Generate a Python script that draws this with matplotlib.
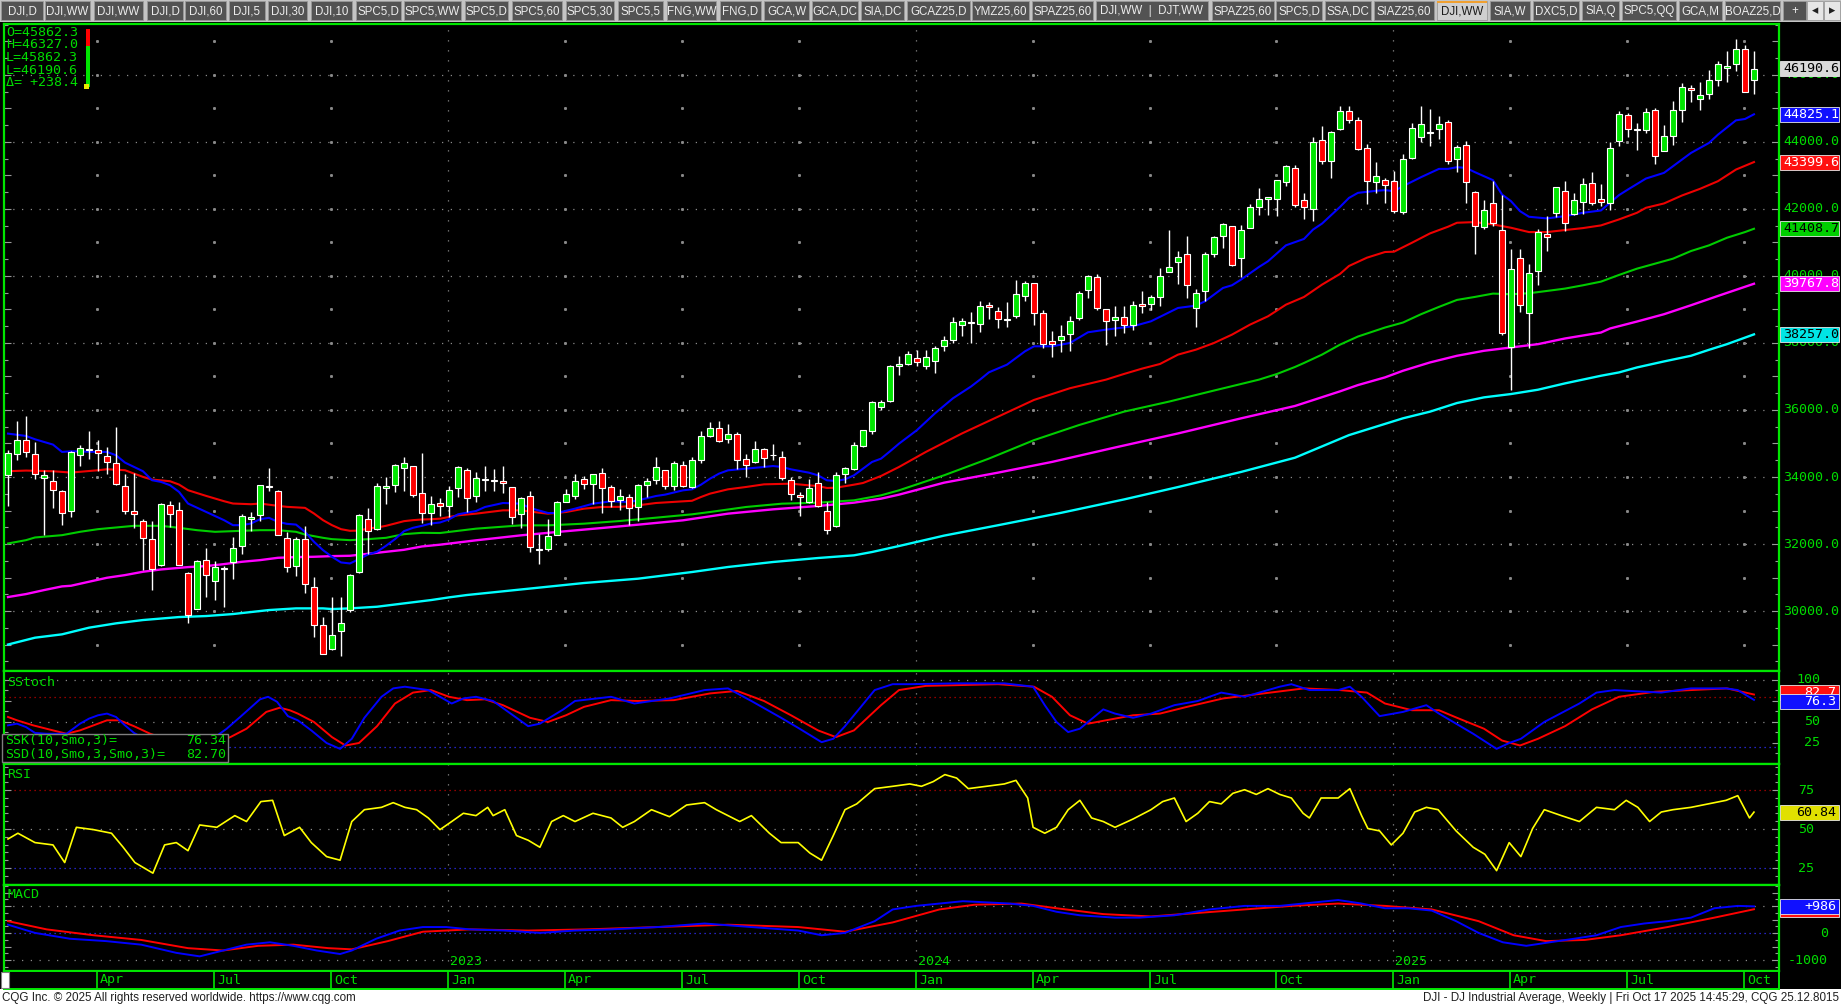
import numpy as np
import pandas as pd
import matplotlib
matplotlib.use("Agg")
import matplotlib.pyplot as plt
from matplotlib.patches import Rectangle
from matplotlib.ticker import MultipleLocator

W, H = 1841, 1008
MONO = "DejaVu Sans Mono"
SANS = ["Liberation Sans", "DejaVu Sans"]
GRN = "#00dc00"

# weekly DJI bars, first bar = week of 24 Jan 2022, last = week of 13 Oct 2025
first_week = "2022-01-24"
opens = [
    34053, 34679, 35106, 34689, 33973, 33884, 33586, 32990, 34659, 34838,
    34808, 34629, 34420, 33735, 32990, 32692, 32155, 31370, 33168, 33020,
    31142, 30069, 31529, 30903, 31260, 31460, 31937, 32751, 32860, 33720,
    33586, 32185, 31350, 32155, 30724, 29590, 28880, 29400, 30030, 31172,
    32751, 32453, 33675, 33765, 34262, 34331, 33526, 32930, 33228, 33125,
    33662, 34209, 33433, 33900, 33900, 33880, 33702, 32886, 33433, 31830,
    31841, 32279, 33254, 33433, 33950, 33791, 34120, 33702, 33314, 33403,
    33105, 33761, 33910, 34209, 33731, 34358, 33702, 34508, 35224, 35463,
    35134, 35284, 34537, 34448, 34836, 34667, 34597, 33910, 33463, 33254,
    33821, 32985, 32538, 34090, 34239, 34925, 35373, 36090, 36269, 37324,
    37373, 37552, 37324, 37453, 37920, 38090, 38537, 38627, 38567, 39135,
    38965, 38676, 38796, 39403, 39791, 38896, 38060, 38080, 38269, 38736,
    39582, 39960, 39015, 38677, 38776, 38537, 39164, 39164, 39373, 40119,
    40418, 40657, 39035, 39543, 40657, 41204, 41493, 40537, 41433, 42060,
    42298, 42298, 42806, 43224, 42269, 42000, 44050, 43423, 44388, 44915,
    44655, 43821, 42799, 42868, 42849, 41906, 43524, 44149, 44260, 44387,
    44596, 43484, 43911, 42501, 41459, 42184, 41380, 37866, 40546, 38908,
    40159, 41260, 41886, 42531, 41856, 42213, 42779, 42303, 42184, 44020,
    44794, 44397, 44367, 44943, 43732, 44189, 44963, 45608, 45280, 45429,
    45846, 46204, 46323, 46769, 45862]
highs = [
    34818, 35682, 35831, 35046, 34202, 34202, 33600, 34768, 34967, 35384,
    35116, 34897, 35493, 34102, 34122, 32761, 32692, 33220, 33278, 33240,
    31160, 31510, 31887, 31500, 31340, 32215, 32900, 32960, 33760, 34281,
    33600, 32344, 32215, 32523, 31022, 29810, 30430, 30420, 31112, 32900,
    33089, 33834, 34003, 34400, 34609, 34340, 34728, 33447, 33387, 33731,
    34328, 34269, 34149, 34328, 34249, 34328, 33702, 33403, 33582, 32289,
    32756, 33284, 33652, 34100, 34030, 34100, 34279, 33761, 33652, 33502,
    33791, 33970, 34597, 34209, 34478, 34478, 34597, 35373, 35652, 35682,
    35592, 35343, 34687, 35075, 34866, 34995, 34786, 34000, 33552, 33950,
    34149, 33254, 34149, 34299, 35045, 35403, 36269, 36299, 37343, 37622,
    37771, 37781, 37801, 37920, 38199, 38776, 38746, 38925, 39264, 39224,
    39075, 39214, 39891, 39841, 39791, 38995, 38368, 38547, 38816, 39562,
    40040, 40060, 39015, 39115, 39115, 39264, 39562, 39443, 40239, 41373,
    40736, 41204, 39612, 40717, 41204, 41582, 41493, 41512, 42139, 42627,
    42358, 42866, 43323, 43323, 42478, 44149, 44488, 44338, 45085, 45085,
    44744, 43950, 43394, 42918, 43127, 43653, 44566, 45082, 44993, 44784,
    44645, 43921, 44040, 42541, 42253, 42829, 42412, 40794, 40794, 40367,
    41389, 41787, 42660, 42849, 42462, 42928, 43107, 42730, 43990, 44913,
    44864, 44566, 45003, 45003, 44496, 45231, 45757, 45697, 45797, 46154,
    46422, 46720, 47077, 46879, 46720]
lows = [
    33129, 34500, 34609, 33953, 32265, 33089, 32562, 32811, 34331, 34530,
    34182, 34083, 33755, 32890, 32463, 31221, 30625, 31340, 32503, 31360,
    29632, 30050, 30407, 30318, 30109, 30953, 31698, 32384, 32692, 33576,
    32260, 31162, 31042, 30526, 29234, 28715, 28850, 28660, 29980, 31142,
    31698, 32413, 33208, 33546, 33576, 33397, 32642, 32562, 32831, 32806,
    33413, 32955, 33254, 33572, 33582, 33522, 32607, 32478, 31761, 31413,
    31782, 32259, 33240, 33334, 33652, 33204, 32925, 33095, 33005, 32577,
    32677, 33403, 33791, 33632, 33602, 33702, 33672, 34418, 35204, 35035,
    35005, 34249, 34010, 34418, 34289, 34498, 33920, 33304, 32836, 33224,
    33105, 32309, 32520, 33831, 34200, 34896, 35274, 36000, 36239, 37045,
    37334, 37304, 37224, 37105, 37751, 38000, 38199, 38000, 38319, 38716,
    38438, 38478, 38736, 39244, 38527, 37841, 37582, 37722, 37751, 38677,
    39334, 38995, 37950, 38219, 38299, 38398, 38896, 38995, 39115, 40119,
    39771, 39334, 38468, 39244, 40567, 40836, 40308, 39960, 41420, 41831,
    41831, 41801, 42677, 42050, 41702, 41632, 43343, 42915, 44368, 44567,
    43772, 42134, 42481, 42184, 41866, 41856, 43500, 44000, 43871, 44100,
    43335, 43097, 42184, 40665, 41409, 41489, 38243, 36605, 38928, 37836,
    39732, 40744, 41767, 41340, 41826, 41856, 42104, 42084, 41965, 43891,
    44139, 43752, 44268, 43335, 43720, 43900, 44586, 45181, 44943, 45280,
    45658, 45777, 46104, 45480, 45439]
closes = [
    34718, 35106, 34748, 34083, 34063, 33606, 32930, 34748, 34867, 34798,
    34718, 34440, 33804, 32990, 32890, 32175, 31261, 33198, 32890, 31370,
    29880, 31500, 31082, 31321, 31290, 31887, 32841, 32811, 33755, 33706,
    32274, 31321, 32155, 30814, 29592, 28726, 29297, 29634, 31082, 32871,
    32384, 33735, 33735, 34361, 34420, 33457, 32930, 33198, 33139, 33612,
    34299, 33373, 33970, 33926, 33869, 33826, 32806, 33373, 31911, 31862,
    32239, 33254, 33483, 33881, 33791, 34090, 33672, 33284, 33433, 33065,
    33761, 33881, 34299, 33731, 34418, 33731, 34508, 35224, 35463, 35065,
    35284, 34508, 34358, 34836, 34567, 34647, 33970, 33493, 33403, 33672,
    33135, 32408, 34050, 34269, 34955, 35403, 36239, 36239, 37313, 37383,
    37682, 37423, 37582, 37851, 38090, 38617, 38657, 38587, 39095, 39075,
    38716, 38716, 39463, 39801, 38896, 37970, 37970, 38209, 38657, 39493,
    39990, 39035, 38647, 38776, 38547, 39135, 39095, 39373, 39990, 40259,
    40567, 39722, 39493, 40667, 41174, 41542, 40318, 41363, 42050, 42308,
    42358, 42866, 43284, 42120, 42060, 44000, 43423, 44299, 44915, 44647,
    43801, 42829, 42997, 42710, 41935, 43494, 44407, 44526, 44303, 44526,
    43434, 43851, 42799, 41489, 41975, 41588, 38293, 40218, 39146, 40099,
    41320, 41171, 42660, 41588, 42273, 42749, 42184, 42213, 43821, 44834,
    44387, 44347, 44883, 43593, 44169, 44943, 45638, 45548, 45400, 45846,
    46333, 46273, 46769, 45489, 46190.6]

# moving averages (bar index, value)
ma_blue_x = [0, 2, 3, 5, 6, 7, 10, 11, 12, 13, 15, 16, 17, 18, 19, 20, 22, 24, 25, 26, 27, 28, 29, 30, 31, 32, 33, 34, 35, 36, 37, 38, 39, 40, 41, 42, 43, 44, 45, 46, 47, 48, 49, 50, 52, 53, 55, 57, 58, 60, 61, 63, 65, 67, 69, 70, 72, 73, 75, 76, 77, 78, 79, 80, 82, 84, 85, 86, 87, 89, 90, 91, 92, 93, 94, 95, 96, 97, 98, 99, 101, 103, 105, 107, 108, 109, 111, 113, 114, 116, 118, 120, 122, 125, 127, 130, 132, 133, 135, 136, 137, 139, 140, 142, 144, 145, 146, 148, 149, 150, 152, 153, 154, 155, 157, 159, 160, 161, 162, 163, 165, 166, 167, 168, 169, 171, 173, 175, 177, 178, 179, 180, 182, 184, 185, 187, 189, 190, 192, 193, 194]
ma_blue_y = [35295, 35225, 35126, 34967, 34748, 34768, 34748, 34748, 34649, 34430, 34172, 33904, 33854, 33755, 33556, 33208, 32960, 32712, 32562, 32562, 32612, 32741, 32781, 32662, 32602, 32580, 32364, 32066, 31817, 31619, 31450, 31420, 31549, 31688, 31768, 31947, 32145, 32384, 32483, 32543, 32612, 32642, 32736, 32886, 32985, 33105, 33224, 33204, 33075, 32925, 32925, 33055, 33204, 33274, 33254, 33304, 33433, 33473, 33602, 33632, 33771, 33950, 34100, 34199, 34249, 34299, 34328, 34299, 34229, 34129, 34050, 33901, 33881, 33930, 34050, 34249, 34448, 34547, 34766, 34995, 35400, 35900, 36350, 36700, 36906, 37125, 37353, 37751, 37901, 37900, 38000, 38319, 38398, 38498, 38647, 39045, 39115, 39244, 39642, 39722, 39891, 40269, 40438, 40915, 41105, 41383, 41562, 42060, 42330, 42481, 42541, 42561, 42531, 42680, 42948, 43196, 43196, 43246, 43226, 43097, 42859, 42432, 42233, 41935, 41767, 41717, 41787, 41886, 41955, 42184, 42412, 42581, 42908, 43077, 43275, 43672, 43970, 44218, 44645, 44685, 44825.1]
ma_red_x = [0, 2, 5, 7, 10, 11, 13, 14, 15, 16, 18, 19, 20, 22, 24, 25, 27, 28, 30, 31, 33, 34, 35, 36, 37, 38, 39, 40, 41, 42, 43, 44, 45, 46, 47, 48, 50, 52, 55, 57, 59, 60, 62, 64, 66, 68, 70, 72, 75, 76, 77, 78, 80, 82, 84, 87, 89, 90, 91, 92, 94, 95, 97, 99, 102, 106, 110, 114, 118, 122, 124, 126, 128, 130, 132, 134, 136, 138, 140, 142, 144, 146, 148, 149, 151, 153, 154, 156, 158, 160, 161, 163, 165, 167, 169, 171, 173, 175, 177, 179, 181, 182, 184, 186, 188, 190, 192, 194]
ma_red_y = [34172, 34192, 34172, 34132, 34202, 34232, 34202, 34102, 34003, 33924, 33874, 33775, 33606, 33437, 33278, 33208, 33188, 33208, 33139, 33109, 33079, 32910, 32712, 32562, 32443, 32394, 32400, 32463, 32493, 32543, 32612, 32682, 32712, 32732, 32740, 32756, 32856, 32906, 33005, 33005, 32935, 32906, 32955, 33055, 33105, 33110, 33154, 33224, 33274, 33290, 33403, 33503, 33632, 33702, 33781, 33801, 33751, 33731, 33672, 33680, 33771, 33821, 34030, 34299, 34750, 35300, 35800, 36300, 36650, 36906, 37075, 37234, 37373, 37652, 37801, 38000, 38249, 38547, 38796, 39144, 39373, 39741, 40060, 40298, 40546, 40715, 40724, 40992, 41270, 41469, 41588, 41608, 41538, 41439, 41310, 41310, 41370, 41429, 41509, 41687, 41886, 42035, 42164, 42402, 42600, 42829, 43176, 43399.6]
ma_green_x = [0, 2, 3, 6, 8, 10, 12, 14, 17, 19, 21, 23, 26, 28, 30, 32, 33, 35, 36, 38, 40, 42, 44, 46, 48, 52, 57, 60, 64, 68, 72, 76, 78, 82, 86, 90, 94, 97, 99, 104, 109, 114, 119, 124, 129, 134, 139, 141, 143, 144, 146, 148, 150, 153, 155, 157, 159, 161, 163, 165, 167, 169, 171, 173, 175, 177, 179, 181, 183, 185, 187, 189, 191, 193, 194]
ma_green_y = [32016, 32115, 32195, 32264, 32364, 32443, 32493, 32543, 32543, 32483, 32413, 32364, 32394, 32413, 32413, 32364, 32284, 32185, 32145, 32115, 32145, 32185, 32294, 32334, 32328, 32458, 32557, 32557, 32607, 32687, 32786, 32886, 32955, 33105, 33204, 33234, 33304, 33453, 33602, 34050, 34550, 35100, 35550, 35950, 36250, 36580, 36906, 37075, 37284, 37403, 37652, 37950, 38193, 38461, 38610, 38858, 39077, 39285, 39375, 39474, 39454, 39484, 39553, 39623, 39722, 39831, 40030, 40218, 40367, 40516, 40744, 40913, 41141, 41310, 41408.7]
ma_magenta_x = [0, 2, 4, 6, 7, 9, 11, 13, 15, 17, 20, 22, 24, 26, 28, 30, 32, 34, 36, 38, 40, 42, 44, 46, 48, 52, 57, 61, 66, 70, 75, 80, 85, 90, 94, 97, 99, 104, 110, 116, 123, 130, 137, 143, 148, 150, 153, 155, 158, 161, 164, 167, 170, 173, 177, 178, 181, 184, 187, 190, 194]
ma_magenta_y = [30417, 30506, 30625, 30735, 30754, 30874, 30993, 31072, 31172, 31241, 31311, 31341, 31400, 31470, 31519, 31589, 31609, 31619, 31639, 31649, 31708, 31768, 31827, 31927, 31980, 32110, 32259, 32358, 32478, 32577, 32707, 32906, 33035, 33135, 33234, 33353, 33473, 33830, 34130, 34450, 34880, 35300, 35750, 36120, 36556, 36744, 36973, 37171, 37419, 37618, 37767, 37866, 37965, 38134, 38312, 38432, 38640, 38858, 39126, 39404, 39767.8]
ma_cyan_x = [0, 3, 6, 9, 12, 15, 19, 22, 25, 29, 32, 35, 36, 38, 41, 44, 47, 49, 51, 64, 70, 76, 80, 85, 90, 94, 96, 99, 104, 110, 117, 124, 130, 137, 143, 149, 155, 158, 161, 164, 167, 170, 173, 177, 179, 181, 184, 187, 189, 191, 194]
ma_cyan_y = [29000, 29204, 29304, 29503, 29632, 29731, 29820, 29850, 29910, 30029, 30079, 30079, 30059, 30079, 30128, 30228, 30327, 30407, 30478, 30836, 30965, 31164, 31314, 31463, 31582, 31662, 31761, 31940, 32250, 32560, 32930, 33330, 33700, 34150, 34576, 35250, 35752, 35950, 36208, 36377, 36476, 36605, 36794, 37022, 37121, 37270, 37449, 37618, 37796, 37965, 38257.0]

# slow stochastic (bar index, value)
ssk_x = [0, 1, 2, 3, 4.3, 6.5, 8, 9, 10, 11, 12, 13, 14, 15, 17, 19, 21, 23, 24.3, 25.8, 28, 28.9, 29.9, 31.1, 32.2, 33.7, 35.4, 36.9, 38.2, 39.6, 41.5, 42.8, 44.1, 46.7, 48, 49.3, 50.6, 52, 53.9, 56.5, 57.8, 59.1, 61.7, 63, 67, 69.6, 73.5, 77.4, 80, 82.6, 85.9, 87.8, 90.4, 91.7, 93, 96.3, 98.3, 100.2, 105.4, 110.7, 113.9, 115.2, 116.5, 117.8, 119.1, 121.7, 123, 125, 127, 129.6, 132.2, 134.8, 137.4, 141.3, 142.6, 144.6, 147.8, 149.1, 150.4, 152.4, 155, 157.6, 159, 162.8, 165.4, 166.8, 168.1, 170.7, 174.6, 176.5, 178.5, 183.7, 187, 190.9, 192.2, 194]
ssk_y = [46, 48, 44, 37, 36, 36, 48, 54, 58, 60, 56, 46, 37, 31, 25, 20, 22, 32, 42, 56, 77, 80, 74, 57, 52, 40, 25, 18, 30, 55, 80, 90, 92, 88, 80, 72, 78, 80, 75, 55, 45, 48, 65, 75, 80, 72, 78, 88, 90, 75, 55, 43, 26, 30, 45, 88, 95, 95, 96, 96, 92, 70, 50, 38, 42, 65, 60, 55, 60, 70, 75, 85, 80, 92, 95, 88, 88, 92, 80, 57, 62, 70, 60, 36, 18, 25, 30, 50, 72, 85, 88, 85, 90, 90, 88, 76.34]
ssd_x = [0, 1, 2.8, 5, 6.5, 8, 9.5, 11, 12.4, 14, 15.8, 18, 20, 22, 24.7, 26.5, 28.7, 30.2, 31.3, 32.2, 34, 36, 37.5, 39, 41, 43, 45, 47, 49, 51, 53, 55, 58, 60, 62, 64, 67, 70, 74, 78, 81, 84, 87, 90, 92, 94, 97, 99, 102, 110, 114, 116, 118, 120, 122, 125, 128, 131, 135, 138, 141, 144, 148, 151, 153, 156, 159, 161, 164, 166, 168, 170, 173, 176, 179, 183, 187, 191, 194]
ssd_y = [56, 52, 46, 40, 36, 40, 46, 52, 52, 45, 36, 28, 22, 22, 32, 42, 62, 67, 64, 60, 50, 32, 22, 25, 45, 72, 85, 88, 80, 76, 77, 70, 55, 50, 58, 68, 76, 75, 76, 84, 87, 75, 58, 40, 32, 40, 70, 88, 93, 95, 92, 80, 58, 48, 52, 58, 60, 68, 78, 82, 86, 90, 88, 85, 72, 64, 64, 55, 42, 28, 22, 30, 45, 65, 80, 86, 88, 90, 82.70]

# RSI (bar index, value)
rsi_x = [0, 1.1, 3, 5, 6.3, 7.6, 9.5, 11.5, 12.8, 14.1, 16.1, 17.4, 18.7, 20, 21.3, 23.2, 25.2, 26.5, 28.1, 29.4, 30.7, 32.4, 33.7, 35.4, 36.9, 38.2, 39.6, 41.5, 42.8, 44.1, 45.4, 46.7, 48, 49.3, 50.6, 52, 53.3, 53.9, 55.2, 56.5, 57.8, 59.1, 60.4, 61.7, 63, 65, 67, 68.3, 69.6, 71.5, 73.5, 75.4, 77.4, 78.7, 80, 81.3, 82.6, 84.6, 85.9, 87.8, 89.1, 90.4, 91.7, 93, 94.3, 96.3, 98.3, 100.2, 101.5, 102.8, 104.1, 105.4, 106.7, 108.7, 110.7, 112, 113.3, 113.9, 115.2, 116.5, 117.8, 119.1, 120.4, 121.7, 123, 125, 127, 128.3, 129.6, 130.9, 132.2, 133.5, 134.8, 136.1, 137.4, 138.7, 140, 141.3, 142.6, 143.9, 144.6, 145.9, 147.8, 149.1, 150.4, 151.1, 152.4, 153.7, 155, 156.3, 157.6, 158.9, 160.9, 162.8, 164.1, 165.4, 166.8, 168.1, 169.4, 170.7, 172.6, 174.6, 176.5, 178.5, 179.8, 181.1, 182.4, 183.7, 185, 187, 188.9, 190.9, 192.2, 193.5, 194]
rsi_y = [43.6, 47.3, 41.3, 39.8, 28.5, 51.1, 49.6, 47.3, 38.3, 28.5, 21.7, 39.8, 41.3, 36.1, 52.6, 51.1, 58.6, 54.8, 67.6, 68.4, 45.8, 51.1, 41.3, 32.3, 30, 54.8, 62.4, 63.9, 66.9, 63.9, 62.4, 57.1, 49.6, 54.8, 60.1, 58.6, 63.9, 58.6, 62.4, 45.8, 42.8, 38.3, 54.8, 58.6, 54.8, 60.1, 57.1, 51.1, 54.8, 62.4, 57.9, 65.4, 66.9, 62.4, 58.6, 54.8, 58.6, 47.3, 41.3, 41.3, 34.6, 30, 45.8, 62.4, 66.1, 75.9, 77.4, 78.9, 77.4, 80.4, 84.9, 82.7, 75.9, 77.4, 78.9, 81.2, 69.9, 51.1, 47.3, 51.1, 62.4, 68.4, 57.1, 54.8, 51.1, 56.4, 62.4, 67.6, 69.9, 54.8, 60.1, 67.6, 66.1, 72.9, 75.2, 72.2, 75.9, 72.2, 69.9, 60.1, 57.1, 69.9, 69.9, 75.9, 58.6, 50.3, 48.8, 39.8, 47.3, 60.9, 63.9, 62.4, 48.8, 38.3, 33.8, 23.3, 41.3, 32.3, 50.3, 62.4, 58.6, 54.8, 63.9, 62.4, 68.4, 63.9, 54.8, 60.9, 62.4, 63.9, 66.1, 68.4, 71.4, 57.1, 60.84]

# MACD and its signal line (bar index, value)
macd_x = [0, 3, 6.9, 10.9, 14.8, 18.7, 21.3, 23.9, 26.5, 29.1, 31.7, 34.3, 36.9, 38.2, 40.9, 43.5, 46.1, 48.7, 51.3, 55.2, 59.1, 63, 67, 72.2, 77.4, 82.6, 87.8, 90.4, 93, 96.3, 98.3, 100.9, 103.5, 106.1, 108.7, 111.3, 113.9, 116.5, 119.1, 123, 125.7, 129.6, 133.5, 137.4, 141.3, 143.9, 147.8, 150.4, 153, 155.6, 158.2, 160.9, 163.4, 166.1, 168.7, 171.3, 174, 176.5, 179.2, 181.8, 184.4, 187, 189.6, 192.2, 194]
macd_y = [308, 4, -213, -300, -431, -735, -865, -648, -431, -344, -474, -648, -778, -648, -213, 91, 221, 221, 134, 91, 4, 91, 134, 221, 352, 221, 91, -83, 4, 439, 873, 1004, 1091, 1178, 1135, 1091, 1004, 787, 656, 569, 569, 656, 873, 1004, 1004, 1091, 1222, 1091, 917, 917, 830, 439, 4, -344, -474, -344, -213, -83, 221, 352, 439, 569, 917, 1004, 986]
signal_x = [0, 4.3, 9.5, 14.8, 20, 23.9, 27.8, 31.7, 35.6, 38.2, 42.2, 46.1, 51.3, 57.8, 64.3, 72.2, 80, 87.8, 93, 98.3, 103.5, 107.4, 112.6, 116.5, 121.7, 127, 132.2, 137.4, 142.6, 147.8, 153, 158.2, 163.4, 167.3, 170.9, 175.2, 179.2, 184.4, 189.6, 194]
signal_y = [439, 134, -83, -257, -561, -648, -474, -431, -561, -605, -300, 48, 134, 91, 134, 221, 308, 221, 48, 392, 873, 1048, 1091, 917, 700, 613, 743, 873, 1004, 1091, 1004, 873, 439, -83, -300, -257, -83, 221, 569, 880]

price_ticks = [30000, 32000, 34000, 36000, 38000, 40000, 42000, 44000, 46000]
tabs = [("DJI,D", 1, 43), ("DJI,WW", 45, 90), ("DJI,WW", 94, 143), ("DJI,D", 147, 183),
        ("DJI,60", 185, 226), ("DJI,5", 229, 265), ("DJI,30", 268, 307), ("DJI,10", 311, 352),
        ("SPC5,D", 356, 401), ("SPC5,WW", 404, 461), ("SPC5,D", 465, 508), ("SPC5,60", 512, 562),
        ("SPC5,30", 566, 614), ("SPC5,5", 618, 663), ("FNG,WW", 667, 716), ("FNG,D", 720, 761),
        ("GCA,W", 764, 809), ("GCA,DC", 812, 858), ("SIA,DC", 861, 904), ("GCAZ25,D", 907, 970),
        ("YMZ25,60", 972, 1029), ("SPAZ25,60", 1032, 1093), ("DJI,WW  |  DJT,WW", 1096, 1208),
        ("SPAZ25,60", 1212, 1274), ("SPC5,D", 1276, 1322), ("SSA,DC", 1325, 1371),
        ("SIAZ25,60", 1374, 1434), ("DJI,WW", 1437, 1487), ("SIA,W", 1490, 1530),
        ("DXC5,D", 1533, 1579), ("SIA,Q", 1582, 1619), ("SPC5,QQ", 1622, 1676),
        ("GCA,M", 1679, 1722), ("BOAZ25,D", 1725, 1780), ("+", 1783, 1806)]
active_tab = 27

# ---------------------------------------------------------------------------
n = len(closes)
dates = pd.date_range(first_week, periods=n, freq="7D")
idx = np.arange(n)
XLO, XHI = -0.444, 196.78
PL, PR = 4, 1779   # plot left / right in pixels

fig = plt.figure(figsize=(W / 100, H / 100), dpi=100, facecolor="black")


def frect(x0, y0, x1, y1, fc, ec="none", lw=0, z=1):
    fig.add_artist(Rectangle((x0 / W, 1 - y1 / H), (x1 - x0) / W, (y1 - y0) / H,
                             transform=fig.transFigure, facecolor=fc, edgecolor=ec,
                             linewidth=lw, zorder=z))


def ftext(x, y, s, **kw):
    kw.setdefault("va", "center")
    kw.setdefault("zorder", 6)
    fig.text(x / W, 1 - y / H, s, **kw)


def xpix(i):
    return PL + (i - XLO) / (XHI - XLO) * (PR - PL)


def panel(y0, y1, lo, hi):
    ax = fig.add_axes([PL / W, 1 - y1 / H, (PR - PL) / W, (y1 - y0) / H])
    ax.set_facecolor("black")
    ax.set_xlim(XLO, XHI)
    ax.set_ylim(lo, hi)
    for s in ax.spines.values():
        s.set_color("#00e600")
        s.set_linewidth(1.6)
    ax.set_xticks([])
    ax.tick_params(axis="y", which="both", direction="in", left=True, right=True,
                   labelleft=False, labelright=False, colors="#9a9a9a", width=0.8)
    ax.tick_params(axis="y", which="major", length=5)
    ax.tick_params(axis="y", which="minor", length=3)
    ax.pix = (y0, y1)
    return ax


def ypix(ax, v):
    lo, hi = ax.get_ylim()
    y0, y1 = ax.pix
    return y0 + (hi - v) / (hi - lo) * (y1 - y0)


def hdots(ax, v, color="#8a8a8a", gap=6):
    ax.axhline(v, color=color, lw=0.9, ls=(0, (1, gap)), zorder=1)


def vbox(ax, v, s, fc, tc, ha="left", dy=0, z=5):
    y = ypix(ax, v) + dy
    frect(1780, y - 7.5, 1839, y + 7.5, fc, ec="#e8e8e8", lw=0.6, z=z)
    if s:
        x = 1783 if ha == "left" else 1836
        ftext(x, y, s, color=tc, fontsize=9.6, family=MONO, ha=ha, zorder=z + 0.5)


# quarter boundaries: first weekly bar in Jan/Apr/Jul/Oct
quarters = [i for i in range(1, n) if dates[i].month != dates[i - 1].month
            and dates[i].month in (1, 4, 7, 10)]
years = [i for i in quarters if dates[i].month == 1]

# --------------------------- main price panel ------------------------------
ax = panel(24, 671, 28210, 47520)
ax.yaxis.set_major_locator(MultipleLocator(1000))
ax.yaxis.set_minor_locator(MultipleLocator(500))
for v in price_ticks:
    hdots(ax, v)
for q in quarters:
    if q in years:
        ax.axvline(q - 0.1, color="#8a8a8a", lw=0.9, ls=(0, (1, 7)), zorder=1)
    else:
        lv = np.arange(29000, 47001, 1000)
        ax.plot(np.full(len(lv), q - 0.1), lv, ls="none", marker="s", ms=1.1,
                color="#8a8a8a", zorder=1)

ax.plot(ma_cyan_x, ma_cyan_y, color="#00ffff", lw=1.7, zorder=2)
ax.plot(ma_magenta_x, ma_magenta_y, color="#ff00ff", lw=1.7, zorder=2)
ax.plot(ma_green_x, ma_green_y, color="#00cc00", lw=1.5, zorder=2)
ax.plot(ma_red_x, ma_red_y, color="#ee0000", lw=1.5, zorder=2)
ax.plot(ma_blue_x, ma_blue_y, color="#0000ff", lw=1.5, zorder=2)

o = np.array(opens); c = np.array(closes)
up = c >= o
ax.vlines(idx, lows, highs, color="white", lw=1.0, zorder=3)
ax.bar(idx, np.maximum(np.abs(c - o), 8), bottom=np.minimum(o, c), width=0.58,
       color=np.where(up, "#00e600", "#ff0000"), edgecolor="white", linewidth=0.8,
       zorder=4)

# axis labels; the ones under a value box stay partly hidden, as on the screen
for v in price_ticks:
    ftext(1783, ypix(ax, v), f"{v:.1f}", color=GRN, fontsize=9.6, family=MONO, zorder=4)
vbox(ax, closes[-1], f"{closes[-1]:.1f}", "#d9d9d9", "#000000")
vbox(ax, ma_blue_y[-1], f"{ma_blue_y[-1]:.1f}", "#1010ff", "#ffffff")
vbox(ax, ma_red_y[-1], f"{ma_red_y[-1]:.1f}", "#ff1010", "#ffffff")
vbox(ax, ma_green_y[-1], f"{ma_green_y[-1]:.1f}", "#00d000", "#000000")
vbox(ax, ma_magenta_y[-1], f"{ma_magenta_y[-1]:.1f}", "#ff00ff", "#ffffff")
vbox(ax, ma_cyan_y[-1], f"{ma_cyan_y[-1]:.1f}", "#00e5e5", "#000000")

info = ["O=45862.3", "H=46327.0", "L=45862.3", "L=46190.6", "\u0394= +238.4"]
for k, s in enumerate(info):
    ftext(6, 32 + k * 12.7, s, color=GRN, fontsize=9.6, family=MONO)
frect(86, 29, 90, 46, "#ff0000", z=6)
frect(86, 46, 90, 87, "#00e600", z=6)
frect(84, 84, 89, 89, "#e8e800", z=7)

# ------------------------------ SStoch -------------------------------------
ax_s = panel(671, 764, 0, 110.7)
ax_s.yaxis.set_major_locator(MultipleLocator(25))
ax_s.yaxis.set_minor_locator(MultipleLocator(12.5))
hdots(ax_s, 100)
hdots(ax_s, 50)
hdots(ax_s, 80, color="#c00000", gap=3)
hdots(ax_s, 20, color="#3030ff", gap=3)
ax_s.plot(ssd_x, ssd_y, color="#ff0000", lw=1.4, zorder=3)
ax_s.plot(ssk_x, ssk_y, color="#0000ff", lw=1.4, zorder=3)
ftext(7, 682, "SStoch", color=GRN, fontsize=9.6, family=MONO)
frect(2, 734, 228, 762, "black", ec="#7f7f7f", lw=1.0, z=5)
ftext(5, 741, "SSK(10,Smo,3)=", color=GRN, fontsize=9.6, family=MONO)
ftext(226, 741, f"{ssk_y[-1]:.2f}", color=GRN, fontsize=9.6, family=MONO, ha="right")
ftext(5, 755, "SSD(10,Smo,3,Smo,3)=", color=GRN, fontsize=9.6, family=MONO)
ftext(226, 755, f"{ssd_y[-1]:.2f}", color=GRN, fontsize=9.6, family=MONO, ha="right")
for v in (100, 50, 25):
    ftext(1820, ypix(ax_s, v), str(v), color=GRN, fontsize=9.6, family=MONO, ha="right")
# the SSD box sits behind the SSK box, only its top shows
vbox(ax_s, ssd_y[-1], f"{ssd_y[-1]:.1f}", "#ff1010", "#ffffff", ha="right", dy=-2, z=5)
vbox(ax_s, ssk_y[-1], f"{ssk_y[-1]:.1f}", "#1010ff", "#ffffff", ha="right", dy=2, z=7)

# -------------------------------- RSI --------------------------------------
ax_r = panel(764, 885, 14.1, 91.7)
ax_r.yaxis.set_major_locator(MultipleLocator(25))
ax_r.yaxis.set_minor_locator(MultipleLocator(5))
hdots(ax_r, 75, color="#c00000", gap=3)
hdots(ax_r, 50)
hdots(ax_r, 25, color="#3030ff", gap=3)
ax_r.plot(rsi_x, rsi_y, color="#ffff00", lw=1.2, zorder=3)
ftext(7, 774, "RSI", color=GRN, fontsize=9.6, family=MONO)
for v in (75, 50, 25):
    ftext(1798, ypix(ax_r, v), str(v), color=GRN, fontsize=9.6, family=MONO)
vbox(ax_r, rsi_y[-1], f"{rsi_y[-1]:.2f}", "#e0e000", "#000000", ha="right")

# -------------------------------- MACD -------------------------------------
ax_m = panel(885, 971, -1407, 1778)
ax_m.yaxis.set_major_locator(MultipleLocator(500))
ax_m.yaxis.set_minor_locator(MultipleLocator(250))
hdots(ax_m, 1000)
hdots(ax_m, -1000)
hdots(ax_m, 0, color="#3030ff", gap=3)
ax_m.plot(signal_x, signal_y, color="#ff0000", lw=1.4, zorder=3)
ax_m.plot(macd_x, macd_y, color="#0000ff", lw=1.4, zorder=3)
ftext(7, 895, "MACD", color=GRN, fontsize=9.6, family=MONO)
ftext(1828, ypix(ax_m, 0), "0", color=GRN, fontsize=9.6, family=MONO, ha="right")
ftext(1828, ypix(ax_m, -1000), "-1000", color=GRN, fontsize=9.6, family=MONO, ha="right")
vbox(ax_m, macd_y[-1], None, "#ff1010", "#ffffff", ha="right", dy=3, z=5)
vbox(ax_m, macd_y[-1], f"{macd_y[-1]:+d}", "#1010ff", "#ffffff", ha="right", z=7)

# year dotted lines through the indicator panels
for a in (ax_s, ax_r, ax_m):
    for q in years:
        a.axvline(q - 0.1, color="#8a8a8a", lw=0.9, ls=(0, (1, 7)), zorder=1)

# ------------------------------ date axis ----------------------------------
ax_d = fig.add_axes([PL / W, 1 - 989 / H, (PR - PL) / W, 18 / H])
ax_d.set_facecolor("black")
ax_d.set_xlim(XLO, XHI)
ax_d.set_ylim(0, 1)
ax_d.set_xticks([]); ax_d.set_yticks([])
for s in ax_d.spines.values():
    s.set_color("#00e600"); s.set_linewidth(1.4)
for q in quarters:
    ax_d.axvline(q - 0.1, color="#00e600", lw=1.2)
    ftext(xpix(q) + 2, 980, dates[q].strftime("%b"), color=GRN, fontsize=9.6, family=MONO)
    if q in years:
        ftext(xpix(q) + 1, 968, str(dates[q].year), color=GRN, fontsize=9.6,
              family=MONO, va="bottom")
frect(1, 972, 9, 988, "white", ec="#808080", lw=0.8, z=6)

# --------------------------- tab bar & footer ------------------------------
frect(0, 0, W, 22, "#c4c4c4", z=0)
for k, (lab, x0, x1) in enumerate(tabs):
    act = k == active_tab
    frect(x0, 1, x1, 20, "#cfcfcf" if act else "#535353", ec="#9a9a9a", lw=0.6, z=2)
    if act:
        frect(x0, 1, x1, 2.5, "#f0a030", z=3)
    ftext((x0 + x1) / 2, 11, lab, color="#1a1a1a" if act else "#ededed",
          fontsize=8.3, family=SANS, ha="center")
frect(1807, 1, 1823, 20, "#e6e6e6", ec="#9a9a9a", lw=0.6, z=2)
frect(1824, 1, 1840, 20, "#e6e6e6", ec="#9a9a9a", lw=0.6, z=2)
ftext(1815, 11, "\u25c2", color="#202020", fontsize=9, ha="center")
ftext(1832, 11, "\u25b8", color="#202020", fontsize=9, ha="center")

frect(0, 989, W, H, "white", z=0)
ftext(2, 998.5, "CQG Inc. \u00a9 2025 All rights reserved worldwide. https://www.cqg.com",
      color="#202020", fontsize=8.4, family=SANS)
ftext(1839, 998.5, "DJI - DJ Industrial Average, Weekly | Fri Oct 17 2025 14:45:29, CQG 25.12.8015",
      color="#202020", fontsize=8.4, family=SANS, ha="right")

fig.savefig("out.png", dpi=100, facecolor="black")
